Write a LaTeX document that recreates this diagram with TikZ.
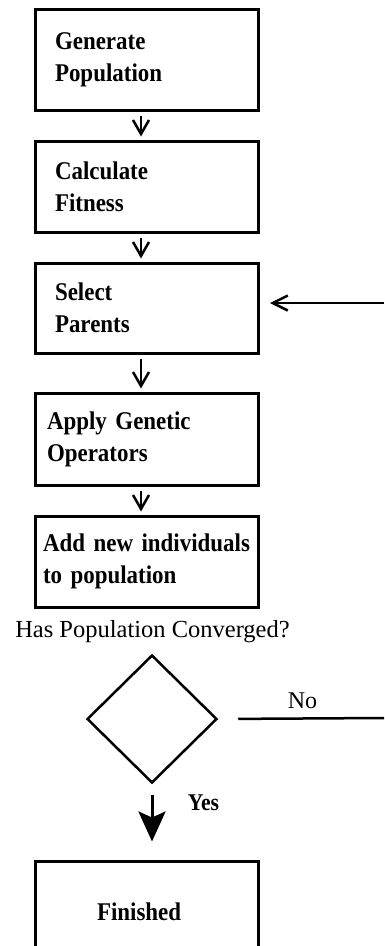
\documentclass[tikz,border=0pt]{standalone}
\usepackage{fontspec}
\setmainfont{Liberation Serif}
\newfontfamily\stepfont[FakeStretch=0.9]{Liberation Serif}
\usetikzlibrary{arrows.meta,shapes.geometric,calc}
\tikzset{
  stepbox/.style={draw, line width=3pt, rectangle, minimum width=223pt,
    align=left, inner ysep=0pt,
    font=\stepfont\fontsize{25.5}{32}\selectfont\bfseries},
  flow/.style={line width=2.5pt,
    -{Straight Barb[length=14pt,width=16pt]},
    shorten <=4pt, shorten >=3pt},
  loopline/.style={line width=2.5pt},
  decision/.style={draw, diamond, line width=2.5pt, inner sep=0pt,
    minimum width=130pt, minimum height=128pt},
  plainlabel/.style={font=\fontsize{24.5}{28}\selectfont, inner sep=0pt},
  boldlabel/.style={font=\stepfont\fontsize{24}{26}\selectfont\bfseries, inner sep=0pt},
}
\begin{document}
\begin{tikzpicture}[x=1pt,y=-1pt]
  \useasboundingbox (0,0) rectangle (384,946);
  \clip (0,0) rectangle (384,946);
  \fill[white] (0,0) rectangle (384,946);

  % process steps
  \node[stepbox, inner xsep=20pt, text width=183pt, minimum height=101pt]
    (gen) at (146.5,59.5) {\mbox{Generate}\\\mbox{Population}};
  \node[stepbox, inner xsep=20pt, text width=183pt, minimum height=91pt]
    (fit) at (146.5,186.5) {\mbox{Calculate}\\\mbox{Fitness}};
  \node[stepbox, inner xsep=20pt, text width=183pt, minimum height=90pt]
    (sel) at (146.5,308) {\mbox{Select}\\\mbox{Parents}};
  \node[stepbox, inner xsep=12pt, text width=199pt, minimum height=92pt]
    (ops) at (146.5,439) {\mbox{Apply Genetic}\\\mbox{Operators}};
  \node[stepbox, inner xsep=8pt, text width=207pt, minimum height=91pt]
    (add) at (146.5,561.5) {\mbox{Add new individuals}\\\mbox{to population}};

  % convergence test
  \node[plainlabel, anchor=base] (ask) at (152.5,637) {Has Population Converged?};
  \node[decision] (conv) at (152,719) {};

  % final step (runs off the bottom edge)
  \node[stepbox, inner xsep=62pt, text width=99pt, minimum height=102pt]
    (done) at (146.5,912) {Finished};

  % arrows between steps
  \coordinate (xa) at (141,0);
  \draw[flow] (gen.south -| xa) -- (fit.north -| xa);
  \draw[flow] (fit.south -| xa) -- (sel.north -| xa);
  \draw[flow] (sel.south -| xa) -- (ops.north -| xa);
  \draw[flow] (ops.south -| xa) -- (add.north -| xa);

  % loop back to parent selection
  \coordinate (backin) at (384,303);
  \coordinate (backout) at (384,718);
  \draw[line width=2.5pt, -{Straight Barb[length=15pt,width=15pt]}, shorten >=10.5pt]
    (backin) -- (backin -| sel.east);
  \draw[loopline, shorten <=20pt] (conv.east) -- (backout);
  \node[plainlabel, font=\fontsize{24}{28}\selectfont, anchor=base] (no) at (302.5,708) {No};

  % converged
  \draw[line width=3pt, -{Stealth[length=30pt,width=27pt,inset=6pt]},
        shorten <=11pt, shorten >=18pt]
    (conv.south) -- (done.north -| conv.south);
  \node[boldlabel, anchor=base] (yes) at (203.5,810) {Yes};
\end{tikzpicture}
\end{document}
